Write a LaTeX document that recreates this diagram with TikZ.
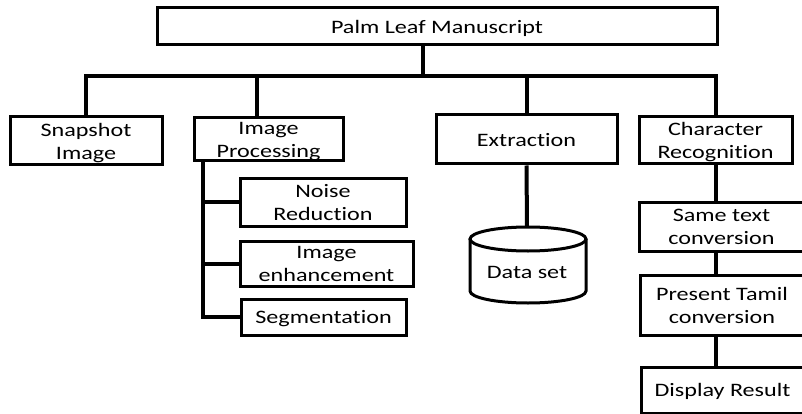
\documentclass[tikz,border=0pt]{standalone}
\usepackage{fontspec}
\setmainfont{Carlito}[Ligatures=NoCommon]
\usepackage{graphicx}
% labels are set slightly widened, one tabular row per line
\newcommand\wlabel[1]{\scalebox{1.27}[1]{\begin{tabular}{@{}c@{}}#1\end{tabular}}}
\begin{document}
\begin{tikzpicture}[x=1pt,y=-1pt,
  box/.style={draw, line width=3pt, inner sep=0pt, fill=white},
  conn/.style={line width=4pt},
  txt/.style={inner sep=0pt, yshift=-2pt, font=\fontsize{19}{23}\selectfont, text=black}]

\useasboundingbox (0,0) rectangle (802,414);
\fill[white] (0,0) rectangle (802,414);

% boxes
\node[box, minimum width=560, minimum height=37] (top)     at (437,26.5)   {};
\node[box, minimum width=152, minimum height=48] (snap)    at (86,141)     {};
\node[box, minimum width=149, minimum height=43] (imgproc) at (268.5,139.5){};
\node[box, minimum width=181, minimum height=49] (extr)    at (526.5,139.5){};
\node[box, minimum width=153, minimum height=47] (charrec) at (715.5,140.5){};
\node[box, minimum width=166, minimum height=48] (noise)   at (323,202)    {};
\node[box, minimum width=173, minimum height=45] (enh)     at (326.5,263.5){};
\node[box, minimum width=165, minimum height=36] (seg)     at (323.5,317)  {};
\node[box, minimum width=165, minimum height=49] (same)    at (721.5,226.5){};
\node[box, minimum width=164, minimum height=60] (tamil)   at (722,305)    {};
\node[box, minimum width=163, minimum height=46] (disp)    at (722.5,390)  {};

% data set cylinder
\draw[line width=3pt, fill=white] (470,239) -- (470,291)
  arc[start angle=180, end angle=360, x radius=58pt, y radius=12pt] -- (586,239);
\draw[line width=3pt, fill=white] (528,239) ellipse [x radius=58pt, y radius=12pt];
\coordinate (dstop) at (527,227);

% connectors
\coordinate (bus) at (423,76);
\coordinate (topdrop) at ([xshift=-14pt]top.south);
\coordinate (ipdrop) at ([xshift=-11.5pt]imgproc.north);
\coordinate (trunk) at ([xshift=-65.5pt]imgproc.south);
\draw[conn] (topdrop) -- (bus);
\draw[conn] (snap.north) |- (bus) -| (charrec.north);
\draw[conn] (ipdrop) -- (ipdrop |- bus);
\draw[conn] (extr.north) -- (extr.north |- bus);
\draw[conn] (trunk) |- (seg.west);
\draw[conn] (trunk |- noise.west) -- (noise.west);
\draw[conn] (trunk |- enh.west) -- (enh.west);
\draw[conn] (extr.south) -- (dstop);
\draw[conn] (charrec.south) -- (charrec.south |- same.north);
\draw[conn] (charrec.south |- same.south) -- (charrec.south |- tamil.north);
\draw[conn] (charrec.south |- tamil.south) -- (charrec.south |- disp.north);

% labels
\node[txt] (topT)     at (top)     {\wlabel{Palm Leaf Manuscript}};
\node[txt] (snapT)    at (snap)    {\wlabel{Snapshot\\Image}};
\node[txt] (imgprocT) at (imgproc) {\wlabel{Image\\Processing}};
\node[txt] (extrT)    at (extr)    {\wlabel{Extraction}};
\node[txt] (charrecT) at (charrec) {\wlabel{Character\\Recognition}};
\node[txt] (noiseT)   at (noise)   {\wlabel{Noise\\Reduction}};
\node[txt] (enhT)     at (enh)     {\wlabel{Image\\enhancement}};
\node[txt] (segT)     at (seg)     {\wlabel{Segmentation}};
\node[txt] (dataT)    at (527,272) {\wlabel{Data set}};
\node[txt] (sameT)    at (same)    {\wlabel{Same text\\conversion}};
\node[txt] (tamilT)   at (tamil)   {\wlabel{Present Tamil\\conversion}};
\node[txt] (dispT)    at (disp)    {\wlabel{Display Result}};
\end{tikzpicture}
\end{document}
